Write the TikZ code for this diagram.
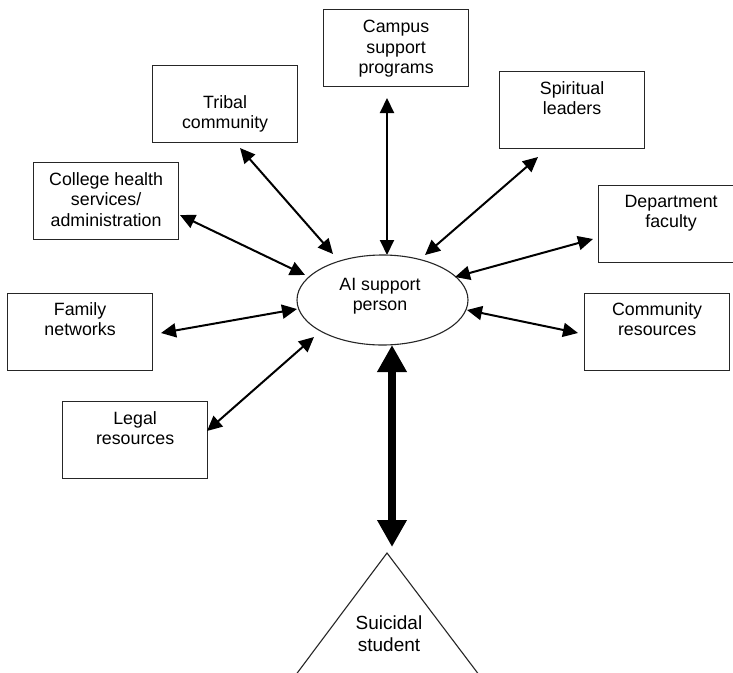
\documentclass[tikz,border=0pt]{standalone}
\usepackage{fontspec}
\setmainfont{Liberation Sans}
\usetikzlibrary{arrows.meta,shapes.geometric}
\begin{document}
\begin{tikzpicture}[x=1pt,y=-1pt,
  box/.style={draw=black!85, line width=1.2pt, minimum width=145pt, minimum height=77pt, inner sep=0pt, anchor=north west},
  txt/.style={font=\fontsize{17.8}{20.5}\selectfont, align=center, inner sep=0pt, anchor=north},
  arr/.style={line width=2pt, {Triangle[length=15pt,width=14pt]}-{Triangle[length=15pt,width=14pt]}},
  big/.style={line width=8pt, {Triangle[length=27pt,width=28pt]}-{Triangle[length=27pt,width=28pt]}}]
\useasboundingbox (0,0) rectangle (733,672);
\fill[white] (0,0) rectangle (733,672);
\clip (0,0) rectangle (733,672);

% boxes
\node[box] (campus) at (323,9) {};
\node[box] (tribal) at (152,65) {};
\node[box] (spirit) at (499,71) {};
\node[box] (college) at (33,162) {};
\node[box] (dept) at (598,185) {};
\node[box] (family) at (7,293) {};
\node[box] (comm) at (584,293) {};
\node[box] (legal) at (62,401) {};

% box texts
\node[txt] (campusT) at ([yshift=-11pt]campus.north) {Campus\\support\\programs};
\node[txt] (tribalT) at ([yshift=-30pt]tribal.north) {Tribal\\community};
\node[txt] (spiritT) at ([yshift=-10pt]spirit.north) {Spiritual\\leaders};
\node[txt] (collegeT) at ([yshift=-10pt]college.north) {College health\\services/\\administration};
\node[txt] (deptT) at ([yshift=-10pt]dept.north) {Department\\faculty};
\node[txt] (familyT) at ([yshift=-9pt]family.north) {Family\\networks};
\node[txt] (commT) at ([yshift=-9pt]comm.north) {Community\\resources};
\node[txt] (legalT) at ([yshift=-10pt]legal.north) {Legal\\resources};

% centre ellipse
\node[draw=black!85, line width=1.1pt, ellipse, minimum width=171pt, minimum height=90pt, inner sep=0pt] (ai) at (382.5,300) {};
\node[txt] (aiT) at (380,278) {AI support\\person};

% triangle
\draw[black!85, line width=1.1pt] (277,700) -- (387,553) -- (498,700);
\node[txt, font=\fontsize{19}{22}\selectfont] (stuT) at (389,616) {Suicidal\\student};

% arrow end points
\coordinate (campusA) at (387,98);  \coordinate (campusB) at (387,255);
\coordinate (tribalA) at (240,148); \coordinate (tribalB) at (333,254);
\coordinate (spiritA) at (538,157); \coordinate (spiritB) at (425,255);
\coordinate (collegeA) at (180,215); \coordinate (collegeB) at (305,275);
\coordinate (deptA) at (593,239);   \coordinate (deptB) at (455,277);
\coordinate (familyA) at (161,333); \coordinate (familyB) at (297,309);
\coordinate (commA) at (578,333);   \coordinate (commB) at (467,310);
\coordinate (legalA) at (207,431);  \coordinate (legalB) at (314,337);
\coordinate (stuA) at (392,345);    \coordinate (stuB) at (392,547);

\draw[arr] (campusA) -- (campusB);
\draw[arr] (tribalA) -- (tribalB);
\draw[arr] (spiritA) -- (spiritB);
\draw[arr] (collegeA) -- (collegeB);
\draw[arr] (deptA) -- (deptB);
\draw[arr] (familyA) -- (familyB);
\draw[arr] (commA) -- (commB);
\draw[arr] (legalA) -- (legalB);
\draw[big] (stuA) -- (stuB);
\end{tikzpicture}
\end{document}
